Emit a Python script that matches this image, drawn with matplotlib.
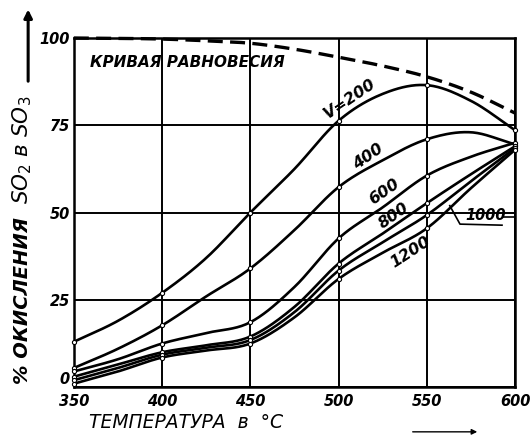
import numpy as np
import matplotlib
matplotlib.use("Agg")
import matplotlib.pyplot as plt
from matplotlib.patches import FancyArrowPatch

# temperatures, deg C
temps = [350, 375, 400, 425, 450, 475, 500, 525, 550, 575, 600]

# % oxidation
equilibrium = [100, 99.9, 99.7, 99.2, 98.5, 96.8, 94.5, 92.0, 88.9, 84.5, 78.5]
v200 = [13, 19, 27, 37, 50, 62.5, 76.3, 84, 86.5, 82, 73.6]
v400 = [5.5, 11, 17.7, 26, 34, 45, 57.3, 65, 71, 73, 69.5]
v600 = [4.5, 8, 12.5, 15.5, 18.6, 28.7, 42.6, 51.5, 60.6, 66, 70]
v800 = [3, 6.5, 10, 12, 14.5, 23, 35.4, 44, 52.7, 61, 69]
v1000 = [2, 5.5, 9.3, 11.3, 13.5, 21.5, 33.4, 41.5, 49.3, 59, 68.5]
v1200 = [1, 4.5, 8.5, 10.5, 12.5, 20, 31, 38.5, 45.5, 57, 68]

x_ticks = [350, 400, 450, 500, 550, 600]
y_ticks = [0, 25, 50, 75, 100]


def smooth(x, y, n=20):
    # catmull-rom through the read points, only for drawing
    x = np.asarray(x, float)
    y = np.asarray(y, float)
    px = np.concatenate([[2 * x[0] - x[1]], x, [2 * x[-1] - x[-2]]])
    py = np.concatenate([[2 * y[0] - y[1]], y, [2 * y[-1] - y[-2]]])
    xs, ys = [], []
    t = np.linspace(0, 1, n, endpoint=False)
    for i in range(1, len(px) - 2):
        for p, out in ((px, xs), (py, ys)):
            p0, p1, p2, p3 = p[i - 1], p[i], p[i + 1], p[i + 2]
            out.extend(0.5 * (2 * p1 + (-p0 + p2) * t
                              + (2 * p0 - 5 * p1 + 4 * p2 - p3) * t ** 2
                              + (-p0 + 3 * p1 - 3 * p2 + p3) * t ** 3))
    xs.append(x[-1])
    ys.append(y[-1])
    return np.array(xs), np.array(ys)


fig = plt.figure(figsize=(5.31, 4.42), dpi=100)
ax = fig.add_axes([0.139, 0.124, 0.831, 0.790])

ax.set_xlim(350, 600)
ax.set_ylim(0, 100)
ax.set_xticks(x_ticks)
ax.set_yticks(y_ticks)
ax.grid(True, color="black", lw=1.4)
ax.set_axisbelow(True)
for s in ax.spines.values():
    s.set_linewidth(1.8)
ax.tick_params(axis="x", length=0, pad=5)
ax.tick_params(axis="y", length=0, pad=3)
tick_font = dict(fontsize=10.5, fontweight="bold", style="italic")
ax.set_xticklabels([str(v) for v in x_ticks], **tick_font)
ax.set_yticklabels([str(v) for v in y_ticks], **tick_font)
# the "0" sits a little above the corner in the original
ax.yaxis.get_major_ticks()[0].label1.set_verticalalignment("bottom")

sx, sy = smooth(temps, equilibrium)
ax.plot(sx, sy, color="black", lw=2.4, ls=(0, (4.5, 2.2)), clip_on=False)

grid_idx = [0, 2, 4, 6, 8, 10]
for ys in (v200, v400, v600, v800, v1000, v1200):
    sx, sy = smooth(temps, ys)
    ax.plot(sx, sy, color="black", lw=1.9, solid_capstyle="round", clip_on=False)
    ax.plot([temps[i] for i in grid_idx], [ys[i] for i in grid_idx], "o", ms=3,
            mfc="white", mec="black", mew=0.8, clip_on=False, zorder=3)

lab = dict(fontsize=11.5, fontweight="bold", style="italic", color="black",
           ha="center", va="center")
ax.text(359, 93, "КРИВАЯ РАВНОВЕСИЯ", fontsize=11, fontweight="bold",
        style="italic", va="center", ha="left")
ax.text(506.5, 82.5, "V=200", rotation=34, **lab)
ax.text(517, 66, "400", rotation=35, **lab)
ax.text(526, 56, "600", rotation=35, **lab)
ax.text(531, 49, "800", rotation=35, **lab)
ax.text(540.5, 38.7, "1200", rotation=33, **lab)
ax.text(583.5, 49.3, "1000", **dict(lab, fontsize=10.5))
ax.plot([563, 568.8, 592.6], [52, 46.7, 46.4], color="black", lw=1.2)
ax.plot([593, 600], [48.7, 48.7], color="black", lw=1.2)

fig.text(0.042, 0.32, "% ОКИСЛЕНИЯ", rotation=90, fontsize=14, fontweight="bold",
         style="italic", ha="center", va="center")
fig.text(0.042, 0.66, "SO$_2$ в SO$_3$", rotation=90, fontsize=15.5,
         style="italic", ha="center", va="center")
fig.add_artist(FancyArrowPatch(
    (0.053, 0.81), (0.053, 0.985), transform=fig.transFigure,
    arrowstyle="-|>", mutation_scale=12, lw=2.2, color="black"))
fig.text(0.35, 0.043, "ТЕМПЕРАТУРА  в  °C", fontsize=13.5, style="italic",
         ha="center", va="center")
fig.add_artist(FancyArrowPatch(
    (0.772, 0.023), (0.904, 0.023), transform=fig.transFigure,
    arrowstyle="-|>", mutation_scale=8, lw=1.0, color="black"))

fig.savefig("out.png", dpi=100)
